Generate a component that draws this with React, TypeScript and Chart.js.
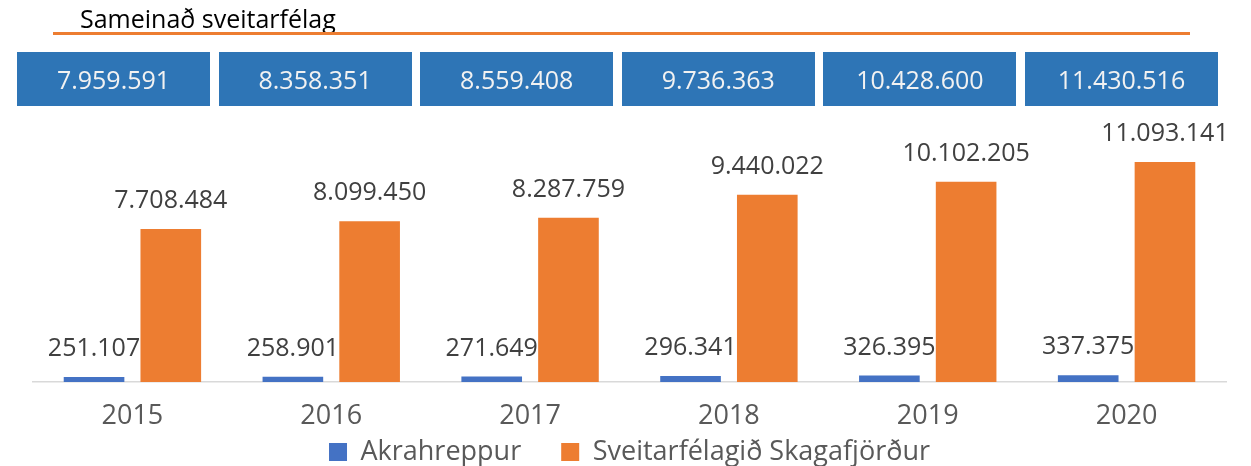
import React, { useEffect, useRef } from "react";
import { Chart, registerables } from "chart.js";

Chart.register(...registerables);

const title = "Sameinað sveitarfélag";
const years = ["2015", "2016", "2017", "2018", "2019", "2020"];
const akrahreppur = [251107, 258901, 271649, 296341, 326395, 337375];
const skagafjordur = [7708484, 8099450, 8287759, 9440022, 10102205, 11093141];
const totals = [7959591, 8358351, 8559408, 9736363, 10428600, 11430516];
const seriesNames = ["Akrahreppur", "Sveitarfélagið Skagafjörður"];

const FONT = "'Open Sans', 'Liberation Sans', sans-serif";

function fmt(n: number): string {
  return String(n).replace(/\B(?=(\d{3})+(?!\d))/g, ".");
}

const labelPlugin = {
  id: "barLabels",
  afterLayout(chart: any) {
    // let the x tick labels draw below the (compact) axis box without clipping
    const s = chart.scales.x;
    s.bottom = s.top + 60;
    s.height = 60;
  },
  afterDatasetsDraw(chart: any) {
    const ctx = chart.ctx;
    ctx.save();
    ctx.font = `25px ${FONT}`;
    ctx.fillStyle = "#404040";
    ctx.textAlign = "center";
    ctx.textBaseline = "alphabetic";
    chart.data.datasets.forEach((ds: any, di: number) => {
      const meta = chart.getDatasetMeta(di);
      meta.data.forEach((bar: any, i: number) => {
        ctx.fillText(fmt(ds.data[i]), bar.x, bar.y - 21);
      });
    });
    ctx.restore();
  },
};

export default function App() {
  const ref = useRef<HTMLCanvasElement>(null);

  useEffect(() => {
    if (!ref.current) return;
    const chart = new Chart(ref.current, {
      type: "bar",
      data: {
        labels: years,
        datasets: [
          {
            label: seriesNames[0],
            data: akrahreppur,
            backgroundColor: "#4472C4",
            barPercentage: 0.79,
            categoryPercentage: 0.772,
          },
          {
            label: seriesNames[1],
            data: skagafjordur,
            backgroundColor: "#ED7D31",
            barPercentage: 0.79,
            categoryPercentage: 0.772,
          },
        ],
      },
      options: {
        responsive: false,
        animation: false,
        layout: { padding: { left: 33, right: 25, top: 144, bottom: -9.5 } },
        scales: {
          x: {
            grid: { display: false, drawTicks: false },
            border: { display: true, color: "#D9D9D9", width: 1.5 },
            ticks: {
              color: "#595959",
              font: { family: FONT, size: 27 },
              padding: 18,
            },
            afterFit: (scale: any) => {
              scale.height = 16.5;
            },
          },
          y: { display: false, min: 0, max: 12000000 },
        },
        plugins: {
          legend: {
            position: "bottom",
            labels: {
              color: "#595959",
              font: { family: FONT, size: 27 },
              boxWidth: 18,
              boxHeight: 18,
              padding: 40,
            },
          },
          tooltip: { enabled: false },
        },
      },
      plugins: [labelPlugin],
    });
    return () => chart.destroy();
  }, []);

  return (
    <div style={{ position: "absolute", left: 0, top: 0, width: 1251, height: 466, background: "#fff", overflow: "hidden" }}>
      <canvas ref={ref} width={1251} height={466} style={{ display: "block" }} />
      <div
        style={{
          position: "absolute",
          left: 80,
          top: 1,
          fontFamily: FONT,
          fontSize: 25,
          color: "#000",
          whiteSpace: "nowrap",
        }}
      >
        {title}
      </div>
      <div style={{ position: "absolute", left: 53, top: 32, width: 1137, height: 3, background: "#ED7D31" }} />
      <div style={{ position: "absolute", left: 17, top: 52, display: "flex", gap: 8.6 }}>
        {totals.map((t, i) => (
          <div
            key={i}
            style={{
              width: 193,
              height: 54,
              background: "#2E75B6",
              color: "#F2F2F2",
              fontFamily: FONT,
              fontSize: 25,
              display: "flex",
              alignItems: "center",
              justifyContent: "center",
            }}
          >
            {fmt(t)}
          </div>
        ))}
      </div>
    </div>
  );
}
